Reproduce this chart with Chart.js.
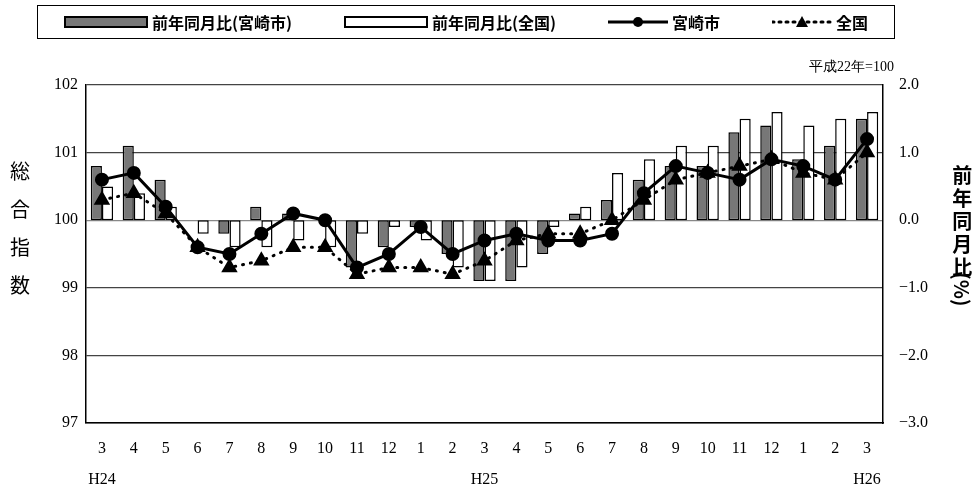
<!DOCTYPE html>
<html><head><meta charset="utf-8">
<script src="https://cdn.jsdelivr.net/npm/chart.js@4/dist/chart.umd.min.js"></script>
<style>
body{margin:0;background:#fff;font-family:"Noto Sans CJK JP",sans-serif;}
#wrap{position:relative;width:980px;height:488px;}
canvas{position:absolute;left:0;top:0;}
#legend{position:absolute;left:37px;top:5px;width:858px;height:34px;border:1.5px solid #000;display:flex;align-items:center;justify-content:space-around;font-size:16px;font-weight:bold;box-sizing:border-box;}
#legend span{display:flex;align-items:center;gap:4px;}
.note{position:absolute;right:86px;top:58px;font-size:14px;font-family:"Liberation Serif",serif;}
.vt{position:absolute;font-size:20px;line-height:1;text-align:center;}
</style></head><body>
<div id="wrap">
<canvas id="c" width="980" height="488"></canvas>
<div id="legend">
 <span><svg width="84" height="14"><rect x="1" y="2" width="82" height="10" fill="#777" stroke="#000" stroke-width="2"/></svg>前年同月比(宮崎市)</span>
 <span><svg width="84" height="14"><rect x="1" y="2" width="82" height="10" fill="#fff" stroke="#000" stroke-width="2"/></svg>前年同月比(全国)</span>
 <span><svg width="60" height="14"><line x1="0" y1="7" x2="60" y2="7" stroke="#000" stroke-width="3"/><circle cx="30" cy="7" r="5" fill="#000"/></svg>宮崎市</span>
 <span><svg width="60" height="14"><line x1="0" y1="7" x2="60" y2="7" stroke="#000" stroke-width="3" stroke-dasharray="2 5" stroke-linecap="round"/><polygon points="30,1 36,12 24,12" fill="#000"/></svg>全国</span>
</div>
<div class="note">平成22年=100</div>
<div class="vt" style="left:10px;top:152px;line-height:1.9;">総<br>合<br>指<br>数</div>
<div class="vt" style="left:945px;top:163px;font-weight:bold;line-height:1.15;">前<br>年<br>同<br>月<br>比<br><span style="display:inline-block;transform:rotate(90deg)">(%)</span></div>
</div>
<script>
var months = ['3','4','5','6','7','8','9','10','11','12','1','2','3','4','5','6','7','8','9','10','11','12','1','2','3'];
var eras = {0:'H24', 12:'H25', 24:'H26'};
var pctMiyazaki = [0.8,1.1,0.6,0.0,-0.2,0.2,0.1,0.0,-0.7,-0.4,-0.1,-0.5,-0.9,-0.9,-0.5,0.1,0.3,0.6,0.8,0.8,1.3,1.4,0.9,1.1,1.5];
var pctNational = [0.5,0.4,0.2,-0.2,-0.4,-0.4,-0.3,-0.4,-0.2,-0.1,-0.3,-0.7,-0.9,-0.7,-0.1,0.2,0.7,0.9,1.1,1.1,1.5,1.6,1.4,1.5,1.6];
var idxMiyazaki = [100.6,100.7,100.2,99.6,99.5,99.8,100.1,100.0,99.3,99.5,99.9,99.5,99.7,99.8,99.7,99.7,99.8,100.4,100.8,100.7,100.6,100.9,100.8,100.6,101.2];
var idxNational = [100.3,100.4,100.1,99.6,99.3,99.4,99.6,99.6,99.2,99.3,99.3,99.2,99.4,99.7,99.8,99.8,100.0,100.3,100.6,100.7,100.8,100.9,100.7,100.6,101.0];

var labels = months.map(function(m, i){ return eras[i] ? [m, eras[i]] : [m, '']; });
var serif = {family:'"Liberation Serif", serif', size:16};

new Chart(document.getElementById('c'), {
  data: {
    labels: labels,
    datasets: [
      {type:'line', label:'宮崎市', data:idxMiyazaki, yAxisID:'y', borderColor:'#000', backgroundColor:'#000', borderWidth:3, pointRadius:5.5, pointStyle:'circle', order:1},
      {type:'line', label:'全国', data:idxNational, yAxisID:'y', borderColor:'#000', backgroundColor:'#000', borderWidth:3, borderDash:[1,7], borderCapStyle:'round', pointRadius:6.5, pointStyle:'triangle', order:2},
      {type:'bar', label:'前年同月比(宮崎市)', data:pctMiyazaki, yAxisID:'y2', backgroundColor:'#777', borderColor:'#000', borderWidth:1.5, borderSkipped:false, categoryPercentage:0.7, barPercentage:1, order:3},
      {type:'bar', label:'前年同月比(全国)', data:pctNational, yAxisID:'y2', backgroundColor:'#fff', borderColor:'#000', borderWidth:1.5, borderSkipped:false, categoryPercentage:0.7, barPercentage:1, order:4}
    ]
  },
  options: {
    responsive:false, animation:false,
    layout:{padding:{top:85, bottom:0, left:0, right:0}},
    plugins:{legend:{display:false}, tooltip:{enabled:false}},
    scales:{
      x:{grid:{display:false, drawTicks:true}, border:{color:'#000', width:1.5},
         ticks:{color:'#000', font:Object.assign({lineHeight:1.9}, serif), maxRotation:0, autoSkip:false, padding:3},
         afterFit:function(s){ s.height = 65; }},
      y:{position:'left', min:97, max:102, ticks:{stepSize:1, color:'#000', font:serif, padding:8},
         grid:{color:function(c){ return c.tick.value===100 ? '#888' : '#444'; }, drawTicks:false, lineWidth:1.2},
         border:{color:'#000', width:1.5},
         afterFit:function(s){ s.width = 86; }},
      y2:{position:'right', min:-3, max:2, grid:{display:false},
         ticks:{stepSize:1, color:'#000', font:serif, padding:8,
           callback:function(v){ return (v<0?'\u2212':'') + Math.abs(v).toFixed(1); }},
         border:{color:'#000', width:1.5},
         afterFit:function(s){ s.width = 97; }}
    }
  }
});
</script>
</body></html>
